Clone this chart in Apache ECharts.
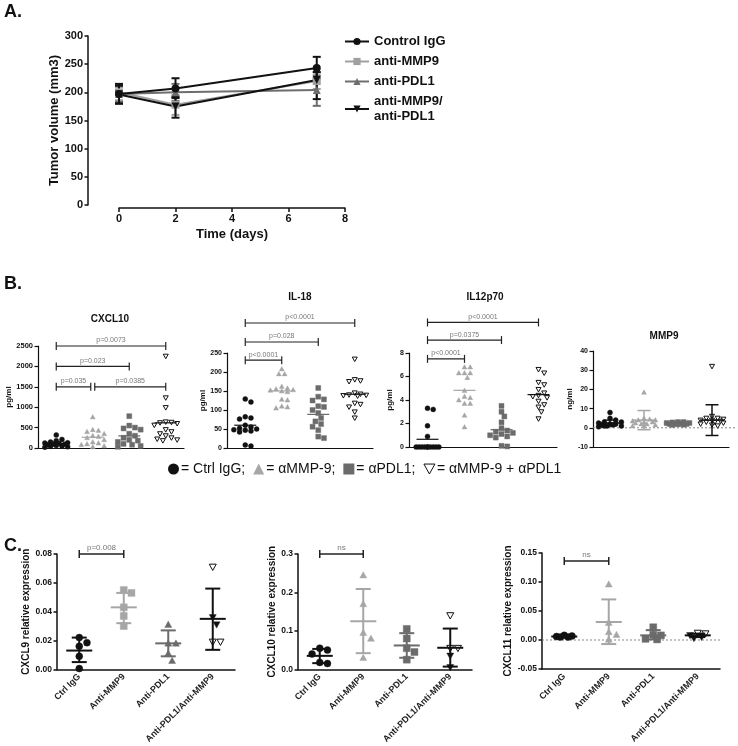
<!DOCTYPE html>
<html><head><meta charset="utf-8">
<script src="https://cdn.jsdelivr.net/npm/echarts@6/dist/echarts.min.js"></script>
<style>html,body{margin:0;padding:0;background:#fff}#c{width:738px;height:746px}</style>
</head><body><div id="c"></div>
<script>
// ================= DATA =================
// Panel A
const aGroups = ['Control IgG', 'anti-MMP9', 'anti-PDL1', 'anti-MMP9/anti-PDL1'];
const aDays = [0, 2, 7];
const aCtrlMean = [197, 207, 243], aCtrlLow = [180, 190, 225], aCtrlHigh = [215, 225, 263];
const aMmp9Mean = [200, 178, 220], aMmp9Low = [186, 160, 206], aMmp9High = [212, 195, 235];
const aPdl1Mean = [197, 200, 204], aPdl1Low = [183, 185, 176], aPdl1High = [210, 215, 230];
const aComboMean = [196, 175, 222], aComboLow = [180, 155, 188], aComboHigh = [212, 192, 236];
const aXTicks = [0, 2, 4, 6, 8];

// Panel B
const bGroups = ['Ctrl IgG', 'αMMP-9', 'αPDL1', 'αMMP-9 + αPDL1'];
const bCxcl10Ctrl = [320, 210, 180, 150, 130, 120, 110, 100, 90, 80, 60, 50, 40, 30, 20];
const bCxcl10Mmp9 = [760, 450, 430, 400, 350, 300, 280, 250, 200, 150, 120, 100, 80, 50, 30];
const bCxcl10Pdl1 = [780, 550, 500, 480, 450, 350, 300, 250, 200, 180, 150, 100, 80, 50, 30];
const bCxcl10Combo = [2250, 1230, 990, 640, 630, 620, 600, 560, 450, 400, 350, 300, 250, 220, 200, 180];
const bCxcl10Brackets = [[0, 3, 2500, 'p=0.0073'], [0, 2, 2000, 'p=0.023'], [0, 1, 1500, 'p=0.035'], [1, 3, 1500, 'p=0.0385']];

const bIl18Ctrl = [129, 121, 82, 79, 76, 60, 55, 52, 50, 48, 47, 45, 42, 8, 5];
const bIl18Mmp9 = [208, 195, 195, 162, 157, 155, 153, 152, 150, 148, 128, 126, 110, 108, 105];
const bIl18Pdl1 = [158, 135, 128, 125, 110, 108, 100, 92, 79, 70, 63, 56, 47, 30, 26];
const bIl18Combo = [234, 180, 177, 175, 145, 142, 140, 139, 138, 137, 118, 115, 108, 95, 79];
const bIl18Brackets = [[0, 3, 329, 'p<0.0001'], [0, 2, 279, 'p=0.028'], [0, 1, 231, 'p<0.0001']];

const bIl12Ctrl = [3.3, 3.2, 1.8, 0.9, 0, 0, 0, 0, 0, 0, 0, 0, 0, 0];
const bIl12Mmp9 = [6.8, 6.8, 6.3, 6.3, 6.3, 5.9, 4.8, 4.3, 4.2, 4.0, 3.7, 3.7, 2.7, 1.7];
const bIl12Pdl1 = [3.5, 3.0, 2.6, 2.1, 1.6, 1.4, 1.3, 1.2, 1.1, 1.0, 0.9, 0.8, 0.1, 0.05];
const bIl12Combo = [6.6, 6.3, 5.5, 5.3, 4.9, 4.6, 4.4, 4.3, 4.2, 3.9, 3.6, 3.4, 3.0, 2.4];
const bIl12Brackets = [[0, 3, 10.6, 'p<0.0001'], [0, 2, 9.1, 'p=0.0375'], [0, 1, 7.5, 'p<0.0001']];

const bMmp9Ctrl = [8, 5, 4, 3, 3, 2.5, 2, 2, 1.5, 1.5, 1, 1, 1, 0.5];
const bMmp9Mmp9 = [18.5, 5, 4.5, 4, 4, 3.5, 3, 3, 2.5, 2, 2, 1.5, 1, 1];
const bMmp9Pdl1 = [3, 3, 2.8, 2.5, 2.5, 2.3, 2.2, 2, 2, 1.8, 1.6, 1.5];
const bMmp9Combo = [32, 6, 5, 5, 4.5, 4, 4, 3.5, 3, 3, 2.5, 2, 1.5, 1];
const bMmp9Mean = [2.5, 4, 2.4, 4];
const bMmp9Low = [1, -1, 1.8, -4];
const bMmp9High = [4, 9, 3, 12];

// Panel C
const cCategories = ['Ctrl IgG', 'Anti-MMP9', 'Anti-PDL1', 'Anti-PDL1/Anti-MMP9'];
const cCxcl9Ctrl = [0.022, 0.0185, 0.016, 0.009, 0.0005];
const cCxcl9Mmp9 = [0.055, 0.053, 0.043, 0.037, 0.030];
const cCxcl9Pdl1 = [0.031, 0.018, 0.018, 0.011, 0.006];
const cCxcl9Combo = [0.071, 0.036, 0.031, 0.019, 0.019];
const cCxcl9ComboFilled = [0, 1, 1, 0, 0];
const cCxcl9Mean = [0.013, 0.043, 0.018, 0.035];
const cCxcl9Low = [0.005, 0.032, 0.009, 0.0135];
const cCxcl9High = [0.022, 0.053, 0.027, 0.056];
const cCxcl9Brackets = [[0, 1, 0.08, 'p=0.008']];

const cCxcl10Ctrl = [0.055, 0.050, 0.040, 0.018, 0.015];
const cCxcl10Mmp9 = [0.245, 0.17, 0.095, 0.08, 0.03];
const cCxcl10Pdl1 = [0.105, 0.08, 0.055, 0.045, 0.025];
const cCxcl10Combo = [0.14, 0.055, 0.055, 0.035, 0.005];
const cCxcl10ComboFilled = [0, 0, 0, 1, 1];
const cCxcl10Mean = [0.035, 0.125, 0.062, 0.056];
const cCxcl10Low = [0.016, 0.042, 0.03, 0.007];
const cCxcl10High = [0.053, 0.209, 0.094, 0.106];
const cCxcl10Brackets = [[0, 1, 0.3, 'ns']];

const cCxcl11Ctrl = [0.008, 0.007, 0.006, 0.005, 0.005];
const cCxcl11Mmp9 = [0.096, 0.03, 0.014, 0.009, 0.001];
const cCxcl11Pdl1 = [0.022, 0.009, 0.008, 0.002, 0.001];
const cCxcl11Combo = [0.012, 0.011, 0.008, 0.005, 0.003];
const cCxcl11ComboFilled = [0, 0, 1, 1, 1];
const cCxcl11Mean = [0.006, 0.031, 0.008, 0.008];
const cCxcl11Low = [0.005, -0.007, 0.001, 0.005];
const cCxcl11High = [0.007, 0.07, 0.017, 0.011];
const cCxcl11Brackets = [[0, 1, 0.136, 'ns']];

// ================= STYLE / HELPERS =================
const FONT = 'Liberation Sans, Arial, sans-serif';
const BLACK = '#111', LIGHT = '#a6a6a6', DARK = '#6b6b6b';

function mean(a) { return a.reduce((s, v) => s + v, 0) / a.length; }

// simple beeswarm layout in pixel space, limited to +-maxHalf
function swarm(ys, d, maxHalf) {
  const order = ys.map((y, i) => i).sort((a, b) => ys[a] - ys[b]);
  const xs = new Array(ys.length);
  const placed = [];
  const step = d * 0.5;
  const cands = [0];
  for (let k = 1; k * step <= maxHalf + 0.01; k++) { cands.push(k * step, -k * step); }
  for (const i of order) {
    let best = 0, bestScore = -1;
    for (const cand of cands) {
      let minD = Infinity;
      for (const p of placed) {
        const dx = p.x - cand, dy = p.y - ys[i];
        minD = Math.min(minD, Math.sqrt(dx * dx + dy * dy));
      }
      if (minD >= d * 0.96) { best = cand; bestScore = Infinity; break; }
      if (minD > bestScore + 0.3) { bestScore = minD; best = cand; }
    }
    xs[i] = best;
    placed.push({ x: best, y: ys[i] });
  }
  return xs;
}

function marker(kind, cx, cy, s, color, filled) {
  const style = filled ? { fill: color, stroke: color, lineWidth: 0.4 } : { fill: '#fff', stroke: color, lineWidth: 1 };
  const h = s / 2;
  if (kind === 'circle') return { type: 'circle', shape: { cx: cx, cy: cy, r: h }, style: style };
  if (kind === 'rect') return { type: 'rect', shape: { x: cx - h, y: cy - h, width: s, height: s }, style: style };
  if (kind === 'tri') return { type: 'polygon', shape: { points: [[cx, cy - h], [cx + h, cy + h * 0.8], [cx - h, cy + h * 0.8]] }, style: style };
  return { type: 'polygon', shape: { points: [[cx - h, cy - h * 0.8], [cx + h, cy - h * 0.8], [cx, cy + h]] }, style: style };
}

function pointSeries(gi, cat, values, kind, color, flags, size, maxHalf, name) {
  return {
    type: 'custom', name: name, xAxisIndex: gi, yAxisIndex: gi, z: 3, silent: true,
    itemStyle: { color: color },
    data: values.map(v => [cat, v]),
    encode: { x: 0, y: 1 },
    renderItem: function (params, api) {
      const ys = values.map(v => api.coord([cat, v])[1]);
      const xs = swarm(ys, size + 0.7, maxHalf);
      const i = params.dataIndex;
      const c = api.coord([cat, values[i]]);
      const filled = flags ? !!flags[i] : true;
      return marker(kind, c[0] + xs[i], c[1], size, color, filled);
    }
  };
}

function summarySeries(gi, means, lows, highs, colors, meanW, capW, lw) {
  return {
    type: 'custom', xAxisIndex: gi, yAxisIndex: gi, z: 4, silent: true,
    data: means.map((m, i) => [i, m]),
    encode: { x: 0, y: 1 },
    renderItem: function (params, api) {
      const i = params.dataIndex;
      const pm = api.coord([i, means[i]]);
      const st = { stroke: colors[i], lineWidth: lw };
      const ch = [{ type: 'line', shape: { x1: pm[0] - meanW / 2, y1: pm[1], x2: pm[0] + meanW / 2, y2: pm[1] }, style: st }];
      if (lows) {
        const pl = api.coord([i, lows[i]]), ph = api.coord([i, highs[i]]);
        ch.push({ type: 'line', shape: { x1: pm[0], y1: pl[1], x2: pm[0], y2: ph[1] }, style: st });
        ch.push({ type: 'line', shape: { x1: pm[0] - capW / 2, y1: pl[1], x2: pm[0] + capW / 2, y2: pl[1] }, style: st });
        ch.push({ type: 'line', shape: { x1: pm[0] - capW / 2, y1: ph[1], x2: pm[0] + capW / 2, y2: ph[1] }, style: st });
      }
      return { type: 'group', children: ch };
    }
  };
}

function bracketSeries(gi, brackets, fontSize, lw) {
  return {
    type: 'custom', xAxisIndex: gi, yAxisIndex: gi, z: 5, clip: false, silent: true,
    data: brackets.map(b => [b[0], b[2]]),
    encode: { x: 0, y: 1 },
    renderItem: function (params, api) {
      const k = params.dataIndex, b = brackets[k];
      const p1 = api.coord([b[0], b[2]]), p2 = api.coord([b[1], b[2]]);
      let x1 = p1[0], x2 = p2[0];
      brackets.forEach((o, j) => {
        if (j !== k && o[2] === b[2]) { if (o[1] === b[0]) x1 += 2; if (o[0] === b[1]) x2 -= 2; }
      });
      const y = p1[1];
      const st = { stroke: '#222', lineWidth: lw };
      return {
        type: 'group', children: [
          { type: 'line', shape: { x1: x1, y1: y, x2: x2, y2: y }, style: st },
          { type: 'line', shape: { x1: x1, y1: y - 4, x2: x1, y2: y + 4 }, style: st },
          { type: 'line', shape: { x1: x2, y1: y - 4, x2: x2, y2: y + 4 }, style: st },
          { type: 'text', x: (x1 + x2) / 2, y: y - 2, style: { text: b[3], fill: '#777', fontSize: fontSize, fontFamily: FONT, align: 'center', verticalAlign: 'bottom' } }
        ]
      };
    }
  };
}

function zeroLine(gi, extra) {
  return {
    type: 'custom', xAxisIndex: gi, yAxisIndex: gi, z: 1, silent: true, clip: false,
    data: [[0, 0]], encode: { x: 0, y: 1 },
    renderItem: function (params, api) {
      const cs = params.coordSys;
      const y = api.coord([0, 0])[1];
      return { type: 'line', shape: { x1: cs.x, y1: y, x2: cs.x + cs.width + extra, y2: y }, style: { stroke: '#888', lineWidth: 1, lineDash: [2, 2] } };
    }
  };
}

function errSeries(gi, xs, lows, highs, color) {
  return {
    type: 'custom', xAxisIndex: gi, yAxisIndex: gi, z: 2, silent: true,
    data: xs.map((x, i) => [x, lows[i], highs[i]]),
    encode: { x: 0, y: [1, 2] },
    renderItem: function (params, api) {
      const i = params.dataIndex;
      const pl = api.coord([xs[i], lows[i]]), ph = api.coord([xs[i], highs[i]]);
      const w = 4, st = { stroke: color, lineWidth: 2 };
      return {
        type: 'group', children: [
          { type: 'line', shape: { x1: pl[0], y1: pl[1], x2: ph[0], y2: ph[1] }, style: st },
          { type: 'line', shape: { x1: pl[0] - w, y1: pl[1], x2: pl[0] + w, y2: pl[1] }, style: st },
          { type: 'line', shape: { x1: ph[0] - w, y1: ph[1], x2: ph[0] + w, y2: ph[1] }, style: st }
        ]
      };
    }
  };
}

// ================= LAYOUT =================
const grids = [
  { left: 119, top: 36, width: 226, height: 169 },   // A
  { left: 38, top: 346, width: 146, height: 102 },   // B CXCL10
  { left: 227, top: 353, width: 146, height: 95 },   // B IL-18
  { left: 409, top: 353, width: 148, height: 94 },   // B IL12p70
  { left: 593, top: 351, width: 136, height: 96 },   // B MMP9
  { left: 57, top: 554, width: 178, height: 116 },   // C CXCL9
  { left: 298, top: 554, width: 174, height: 116 },  // C CXCL10
  { left: 542, top: 553, width: 178, height: 116 }   // C CXCL11
];

const axLine = { onZero: false, lineStyle: { color: BLACK, width: 1.5 } };

const xAxes = [
  {
    gridIndex: 0, type: 'value', min: 0, max: 8, interval: 2, offset: 3,
    axisLine: axLine, axisTick: { length: 4, lineStyle: { width: 1.5, color: BLACK } },
    axisLabel: { fontSize: 11, fontWeight: 'bold', color: BLACK, fontFamily: FONT, margin: 5, customValues: aXTicks },
    splitLine: { show: false },
    name: 'Time (days)', nameLocation: 'middle', nameGap: 20,
    nameTextStyle: { fontSize: 13, fontWeight: 'bold', color: BLACK, fontFamily: FONT }
  }
];
for (let gi = 1; gi <= 4; gi++) {
  xAxes.push({
    gridIndex: gi, type: 'category', data: bGroups, boundaryGap: true,
    axisLine: { onZero: false, lineStyle: { color: BLACK, width: 1.2 } },
    axisTick: { alignWithLabel: true, length: 3, lineStyle: { color: BLACK, width: 1.2 } },
    axisLabel: { show: false }, splitLine: { show: false }
  });
}
for (let gi = 5; gi <= 7; gi++) {
  xAxes.push({
    gridIndex: gi, type: 'category', data: cCategories, boundaryGap: true,
    axisLine: axLine,
    axisTick: { alignWithLabel: true, length: 4, lineStyle: { color: BLACK, width: 1.5 } },
    axisLabel: { interval: 0, rotate: 45, fontSize: 9, fontWeight: 'bold', color: '#222', fontFamily: FONT, margin: 6 },
    splitLine: { show: false }
  });
}

function yAx(gi, min, max, interval, fs, name, nameGap, nameFs, fmt, lw) {
  return {
    gridIndex: gi, type: 'value', min: min, max: max, interval: interval,
    axisLine: { show: true, onZero: false, lineStyle: { color: BLACK, width: lw } },
    axisTick: { show: true, length: 3.5, lineStyle: { color: BLACK, width: lw } },
    axisLabel: { fontSize: fs, fontWeight: 'bold', color: BLACK, fontFamily: FONT, margin: 5, formatter: fmt || (v => String(v)) },
    splitLine: { show: false },
    name: name, nameLocation: 'middle', nameGap: nameGap,
    nameTextStyle: { fontSize: nameFs, fontWeight: 'bold', color: BLACK, fontFamily: FONT }
  };
}
const yAxes = [
  Object.assign(yAx(0, 0, 300, 50, 11, 'Tumor volume (mm3)', 26, 13, null, 1.5), { offset: 31 }),
  yAx(1, 0, 2500, 500, 7.5, 'pg/ml', 19, 8, null, 1.2),
  yAx(2, 0, 250, 50, 7, 'pg/ml', 15, 8, null, 1.2),
  yAx(3, 0, 8, 2, 7, 'pg/ml', 15, 8, null, 1.2),
  yAx(4, -10, 40, 10, 7, 'ng/ml', 17, 8, null, 1.2),
  yAx(5, 0, 0.08, 0.02, 8.5, 'CXCL9 relative expression', 20, 10, v => v.toFixed(2), 1.5),
  yAx(6, 0, 0.3, 0.1, 8.5, 'CXCL10 relative expression', 18, 10, v => v.toFixed(1), 1.5),
  yAx(7, -0.05, 0.15, 0.05, 8.5, 'CXCL11 relative expression', 23, 10, v => v.toFixed(2), 1.5)
];

// ================= SERIES =================
const series = [];
// Panel A
const aColors = [BLACK, '#a0a0a0', '#6e6e6e', BLACK];
const aSymbols = ['circle', 'rect', 'triangle', 'path://M0,0L10,0L5,9Z'];
const aMeans = [aCtrlMean, aMmp9Mean, aPdl1Mean, aComboMean];
const aLows = [aCtrlLow, aMmp9Low, aPdl1Low, aComboLow];
const aHighs = [aCtrlHigh, aMmp9High, aPdl1High, aComboHigh];
[1, 2, 3, 0].forEach(g => {
  series.push(errSeries(0, aDays, aLows[g], aHighs[g], aColors[g]));
});
[1, 2, 3, 0].forEach(g => {
  series.push({
    type: 'line', name: aGroups[g], xAxisIndex: 0, yAxisIndex: 0, z: 3,
    data: aDays.map((d, i) => [d, aMeans[g][i]]),
    symbol: aSymbols[g], symbolSize: 8,
    lineStyle: { color: aColors[g], width: 2 }, itemStyle: { color: aColors[g] }
  });
});

// Panel B
const bKinds = ['circle', 'tri', 'rect', 'dtri'];
const bColors = [BLACK, LIGHT, DARK, BLACK];
const bSets = [
  [bCxcl10Ctrl, bCxcl10Mmp9, bCxcl10Pdl1, bCxcl10Combo],
  [bIl18Ctrl, bIl18Mmp9, bIl18Pdl1, bIl18Combo],
  [bIl12Ctrl, bIl12Mmp9, bIl12Pdl1, bIl12Combo],
  [bMmp9Ctrl, bMmp9Mmp9, bMmp9Pdl1, bMmp9Combo]
];
const bBrackets = [bCxcl10Brackets, bIl18Brackets, bIl12Brackets, null];
series.push(zeroLine(4, 8));
bSets.forEach((set, k) => {
  const gi = k + 1;
  set.forEach((vals, g) => {
    const flags = g === 3 ? vals.map(() => 0) : null;
    series.push(pointSeries(gi, g, vals, bKinds[g], bColors[g], flags, 5, 13, bGroups[g]));
  });
  if (k < 3) {
    series.push(summarySeries(gi, set.map(mean), null, null, bColors, 22, 0, 1.2));
  } else {
    series.push(summarySeries(gi, bMmp9Mean, bMmp9Low, bMmp9High, bColors, 24, 13, 1.5));
  }
  if (bBrackets[k]) series.push(bracketSeries(gi, bBrackets[k], 7, 1.2));
});

// Panel C
const cColors = [BLACK, LIGHT, DARK, BLACK];
const cDefs = [
  { gi: 5, sets: [cCxcl9Ctrl, cCxcl9Mmp9, cCxcl9Pdl1, cCxcl9Combo], flags: cCxcl9ComboFilled, kinds: ['circle', 'rect', 'tri', 'dtri'], m: cCxcl9Mean, lo: cCxcl9Low, hi: cCxcl9High, br: cCxcl9Brackets },
  { gi: 6, sets: [cCxcl10Ctrl, cCxcl10Mmp9, cCxcl10Pdl1, cCxcl10Combo], flags: cCxcl10ComboFilled, kinds: ['circle', 'tri', 'rect', 'dtri'], m: cCxcl10Mean, lo: cCxcl10Low, hi: cCxcl10High, br: cCxcl10Brackets },
  { gi: 7, sets: [cCxcl11Ctrl, cCxcl11Mmp9, cCxcl11Pdl1, cCxcl11Combo], flags: cCxcl11ComboFilled, kinds: ['circle', 'tri', 'rect', 'dtri'], m: cCxcl11Mean, lo: cCxcl11Low, hi: cCxcl11High, br: cCxcl11Brackets }
];
series.push(zeroLine(7, 0));
cDefs.forEach(d => {
  d.sets.forEach((vals, g) => {
    series.push(pointSeries(d.gi, g, vals, d.kinds[g], cColors[g], g === 3 ? d.flags : null, 7, 10, 'c' + d.gi + '_' + g));
  });
  series.push(summarySeries(d.gi, d.m, d.lo, d.hi, cColors, 26, 15, 2));
  series.push(bracketSeries(d.gi, d.br, 8, 1.5));
});

// ================= TEXT =================
const graphic = [
  { type: 'text', x: 4, y: 3, style: { text: 'A.', fontSize: 18, fontWeight: 'bold', fontFamily: FONT, fill: BLACK } },
  { type: 'text', x: 4, y: 275, style: { text: 'B.', fontSize: 18, fontWeight: 'bold', fontFamily: FONT, fill: BLACK } },
  { type: 'text', x: 4, y: 537, style: { text: 'C.', fontSize: 18, fontWeight: 'bold', fontFamily: FONT, fill: BLACK } },
  { type: 'text', x: 110, y: 319, style: { text: 'CXCL10', fontSize: 10, fontWeight: 'bold', fontFamily: FONT, fill: BLACK, align: 'center', verticalAlign: 'middle' } },
  { type: 'text', x: 300, y: 297, style: { text: 'IL-18', fontSize: 10, fontWeight: 'bold', fontFamily: FONT, fill: BLACK, align: 'center', verticalAlign: 'middle' } },
  { type: 'text', x: 485, y: 297, style: { text: 'IL12p70', fontSize: 10, fontWeight: 'bold', fontFamily: FONT, fill: BLACK, align: 'center', verticalAlign: 'middle' } },
  { type: 'text', x: 664, y: 336, style: { text: 'MMP9', fontSize: 10, fontWeight: 'bold', fontFamily: FONT, fill: BLACK, align: 'center', verticalAlign: 'middle' } }
];

const option = {
  animation: false,
  backgroundColor: '#fff',
  grid: grids.map(g => Object.assign({ containLabel: false }, g)),
  xAxis: xAxes,
  yAxis: yAxes,
  legend: [
    {
      data: aGroups, orient: 'vertical', left: 344, top: 34, padding: 0,
      itemWidth: 24, itemHeight: 9, itemGap: 5,
      textStyle: { fontSize: 13, fontWeight: 'bold', color: BLACK, fontFamily: FONT, lineHeight: 15 },
      formatter: n => n.replace('/', '/\n'), selectedMode: false
    },
    {
      data: [
        { name: bGroups[0], icon: 'circle', itemStyle: { color: BLACK } },
        { name: bGroups[1], icon: 'triangle', itemStyle: { color: LIGHT } },
        { name: bGroups[2], icon: 'rect', itemStyle: { color: DARK } },
        { name: bGroups[3], icon: 'path://M0,0L10,0L5,9Z', itemStyle: { color: '#fff', borderColor: BLACK, borderWidth: 1 } }
      ],
      left: 168, top: 462, padding: 0, itemWidth: 11, itemHeight: 11, itemGap: 8, selectedMode: false,
      textStyle: { fontSize: 14, color: BLACK, fontFamily: FONT, padding: [0, 0, 0, -3] },
      formatter: n => '= ' + n + (n === bGroups[3] ? '' : ';')
    }
  ],
  graphic: graphic,
  series: series
};

const chart = echarts.init(document.getElementById('c'), null, { renderer: 'canvas' });
chart.setOption(option);
</script>
</body></html>
